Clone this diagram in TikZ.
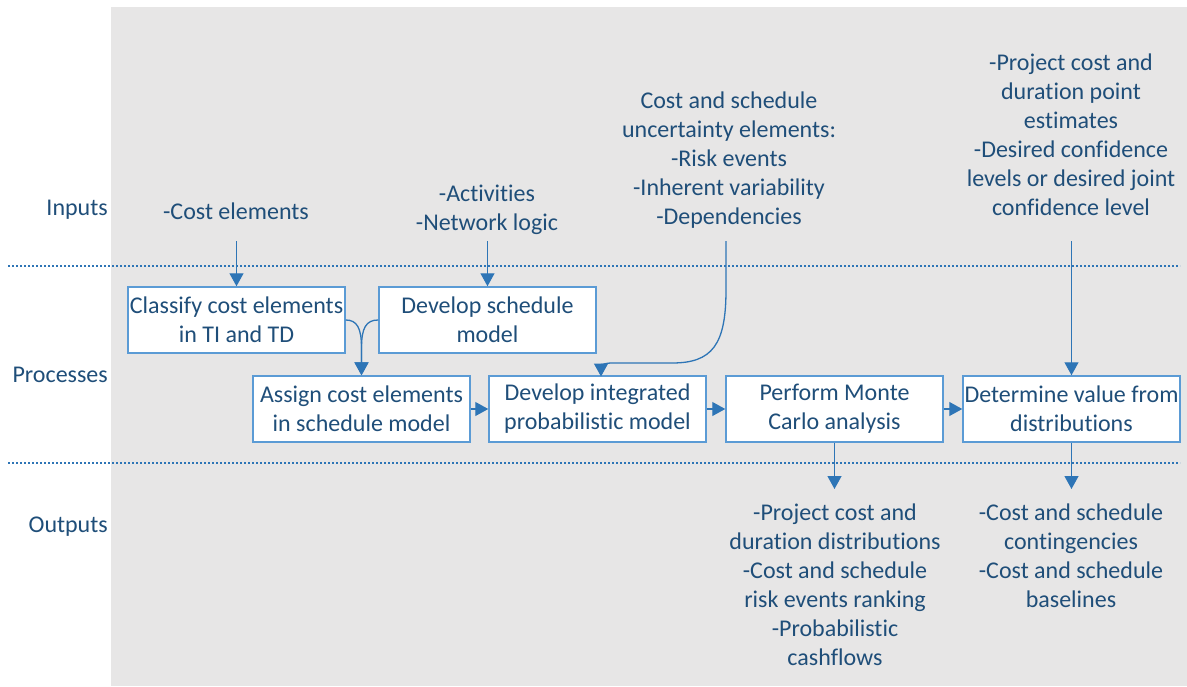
\documentclass[tikz,border=0pt]{standalone}
\usepackage{fontspec}
\setmainfont{Carlito}[Ligatures={NoCommon}]
\usetikzlibrary{arrows.meta}
\definecolor{txt}{HTML}{1F4E79}
\definecolor{bord}{HTML}{5B9BD5}
\definecolor{arr}{HTML}{2E75B6}
\definecolor{bg}{HTML}{E7E6E6}
\begin{document}
\begin{tikzpicture}[x=1pt,y=-1pt,
 lbl/.style={text=txt,font=\fontsize{24}{29}\selectfont,align=center,inner sep=0pt},
 proc/.style={draw=bord,line width=1.5pt,fill=white,minimum width=217pt,minimum height=66pt,text=txt,font=\fontsize{24}{29}\selectfont,align=center,inner sep=0pt},
 conn/.style={draw=arr,line width=1.3pt,-{Triangle[width=14pt,length=13pt]}},
 sepline/.style={draw=arr,line width=1.5pt,dash pattern=on 2pt off 2pt}]
\useasboundingbox (0,0) rectangle (1187,686);
\fill[bg] (111,7) rectangle (1187,686);
% separators
\coordinate (s1a) at (8,266); \coordinate (s1b) at (1180,266);
\coordinate (s2a) at (8,463); \coordinate (s2b) at (1180,463);
\draw[sepline] (s1a) -- (s1b);
\draw[sepline] (s2a) -- (s2b);
% row labels
\node[lbl,anchor=east] (linputs) at (108,210) {Inputs};
\node[lbl,anchor=east] (lproc) at (108,375) {Processes};
\node[lbl,anchor=east] (lout) at (108,527) {Outputs};
% inputs
\node[lbl] (icost) at (236,211) {-Cost elements};
\node[lbl] (iact) at (487,210) {-Activities\\-Network logic};
\node[lbl] (iunc) at (729,160.5) {Cost and schedule\\uncertainty elements:\\-Risk events\\-Inherent variability\\-Dependencies};
\node[lbl] (ipt) at (1071,135) {-Project cost and\\duration point\\estimates\\-Desired confidence\\levels or desired joint\\confidence level};
% processes
\node[proc] (classify) at (236.5,320) {Classify cost elements\\in TI and TD};
\node[proc] (sched) at (487.5,320) {Develop schedule\\model};
\node[proc] (assign) at (361.5,409) {Assign cost elements\\in schedule model};
\node[proc] (integ) at (597.5,409) {Develop integrated\\probabilistic model};
\node[proc] (monte) at (834.5,409) {Perform Monte\\Carlo analysis};
\node[proc] (determ) at (1071.5,409) {Determine value from\\distributions};
% outputs
\node[lbl] (omonte) at (835,585) {-Project cost and\\duration distributions\\-Cost and schedule\\risk events ranking\\-Probabilistic\\cashflows};
\node[lbl] (odet) at (1071,556) {-Cost and schedule\\contingencies\\-Cost and schedule\\baselines};
% connector ends
\coordinate (c1) at (236.5,241);
\coordinate (c2) at (487.5,241);
\coordinate (c3) at (726,241);
\coordinate (c4) at (1071.5,241);
\coordinate (o1) at (834.5,489);
\coordinate (o2) at (1071.5,489);
% connectors
\draw[conn] (c1) -- (classify.north);
\draw[conn] (c2) -- (sched.north);
\draw[conn] (c4) -- (determ.north);
\draw[conn] (c3) -- (726,290) .. controls (726,345) and (712,363) .. (672,363) -- (612,363) .. controls (603,363) and (601,366) .. (601,376.5);
\draw[conn] (classify.east) .. controls (357,320) and (361.5,328) .. (361.5,348) -- (assign.north);
\draw[conn] (sched.west) .. controls (366,320) and (361.5,328) .. (361.5,348) -- (assign.north);
\draw[conn] (assign.east) -- (integ.west);
\draw[conn] (integ.east) -- (monte.west);
\draw[conn] (monte.east) -- (determ.west);
\draw[conn] (monte.south) -- (o1);
\draw[conn] (determ.south) -- (o2);
\end{tikzpicture}
\end{document}
